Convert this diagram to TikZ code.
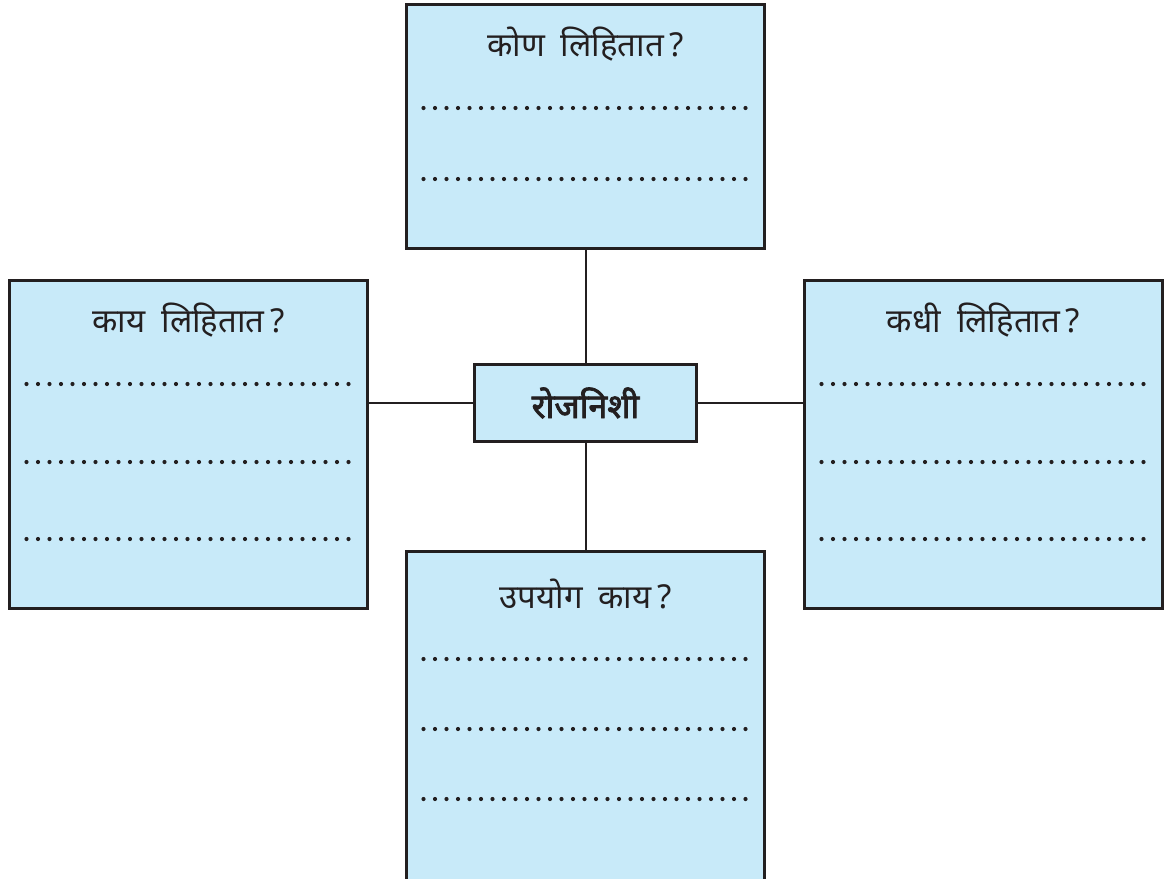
\documentclass[tikz,border=0pt]{standalone}
\usepackage{fontspec}
\newfontfamily\devfont[Script=Devanagari]{Noto Sans}
\newfontfamily\devbold[Script=Devanagari, FakeBold=2.5]{Noto Sans}
\usetikzlibrary{positioning}
\definecolor{boxblue}{RGB}{200,234,249}
\definecolor{inkline}{RGB}{35,31,32}

\begin{document}
\begin{tikzpicture}[
    x=0.5pt, y=0.5pt,
    node distance=54pt,
    box/.style={rectangle, draw=inkline, line width=1.5pt, fill=boxblue, minimum width=179pt, outer sep=0pt, inner sep=0pt},
    hub/.style={box, minimum width=111pt, minimum height=38.5pt, font=\devbold\fontsize{17}{20}\selectfont, text=inkline},
    title/.style={font=\devfont\fontsize{16.5}{19}\selectfont, text=inkline},
    dots/.style={draw=inkline, line width=2.1pt, line cap=round, dash pattern=on 0pt off 5.75pt},
    link/.style={draw=inkline, line width=1pt}
]
\useasboundingbox (0,0) rectangle (1164,-879);

% Centre topic
\node[hub] (diary) at (585.5,-403) {रोजनिशी};

% Four question boxes round it
\node[box, minimum height=122pt, above=58pt of diary] (top-box) {};
\node[box, minimum height=164pt, left=53.5pt of diary, yshift=-20.75pt] (left-box) {};
\node[box, minimum height=164pt, right=54pt of diary, yshift=-20.75pt] (right-box) {};
\node[box, minimum height=170pt, below=55pt of diary] (bottom-box) {};

% Questions
\node[title] (top-title) at ([yshift=-20pt]top-box.north) {कोण\hspace{8pt}लिहितात\,?};
\node[title] (left-title) at ([yshift=-20pt]left-box.north) {काय\hspace{8pt}लिहितात\,?};
\node[title] (right-title) at ([yshift=-20pt]right-box.north) {कधी\hspace{8pt}लिहितात\,?};
\node[title] (bottom-title) at ([yshift=-21pt]bottom-box.north) {उपयोग\hspace{8pt}काय\,?};

% Dotted answer lines
\foreach \bx/\dy in {top-box/51.75, top-box/87.25,
                     left-box/51.75, left-box/90.75, left-box/129.25,
                     right-box/51.75, right-box/90.75, right-box/129.25,
                     bottom-box/53.75, bottom-box/88.75, bottom-box/123.75} {
    \draw[dots] ([xshift=8.5pt, yshift=-\dy pt]\bx.north west) -- ([xshift=-8.4pt, yshift=-\dy pt]\bx.north east);
}

% Connectors
\draw[link] (diary.north) -- (top-box.south);
\draw[link] (diary.south) -- (bottom-box.north);
\draw[link] (diary.west) -- (diary.west -| left-box.east);
\draw[link] (diary.east) -- (diary.east -| right-box.west);

\end{tikzpicture}
\end{document}
